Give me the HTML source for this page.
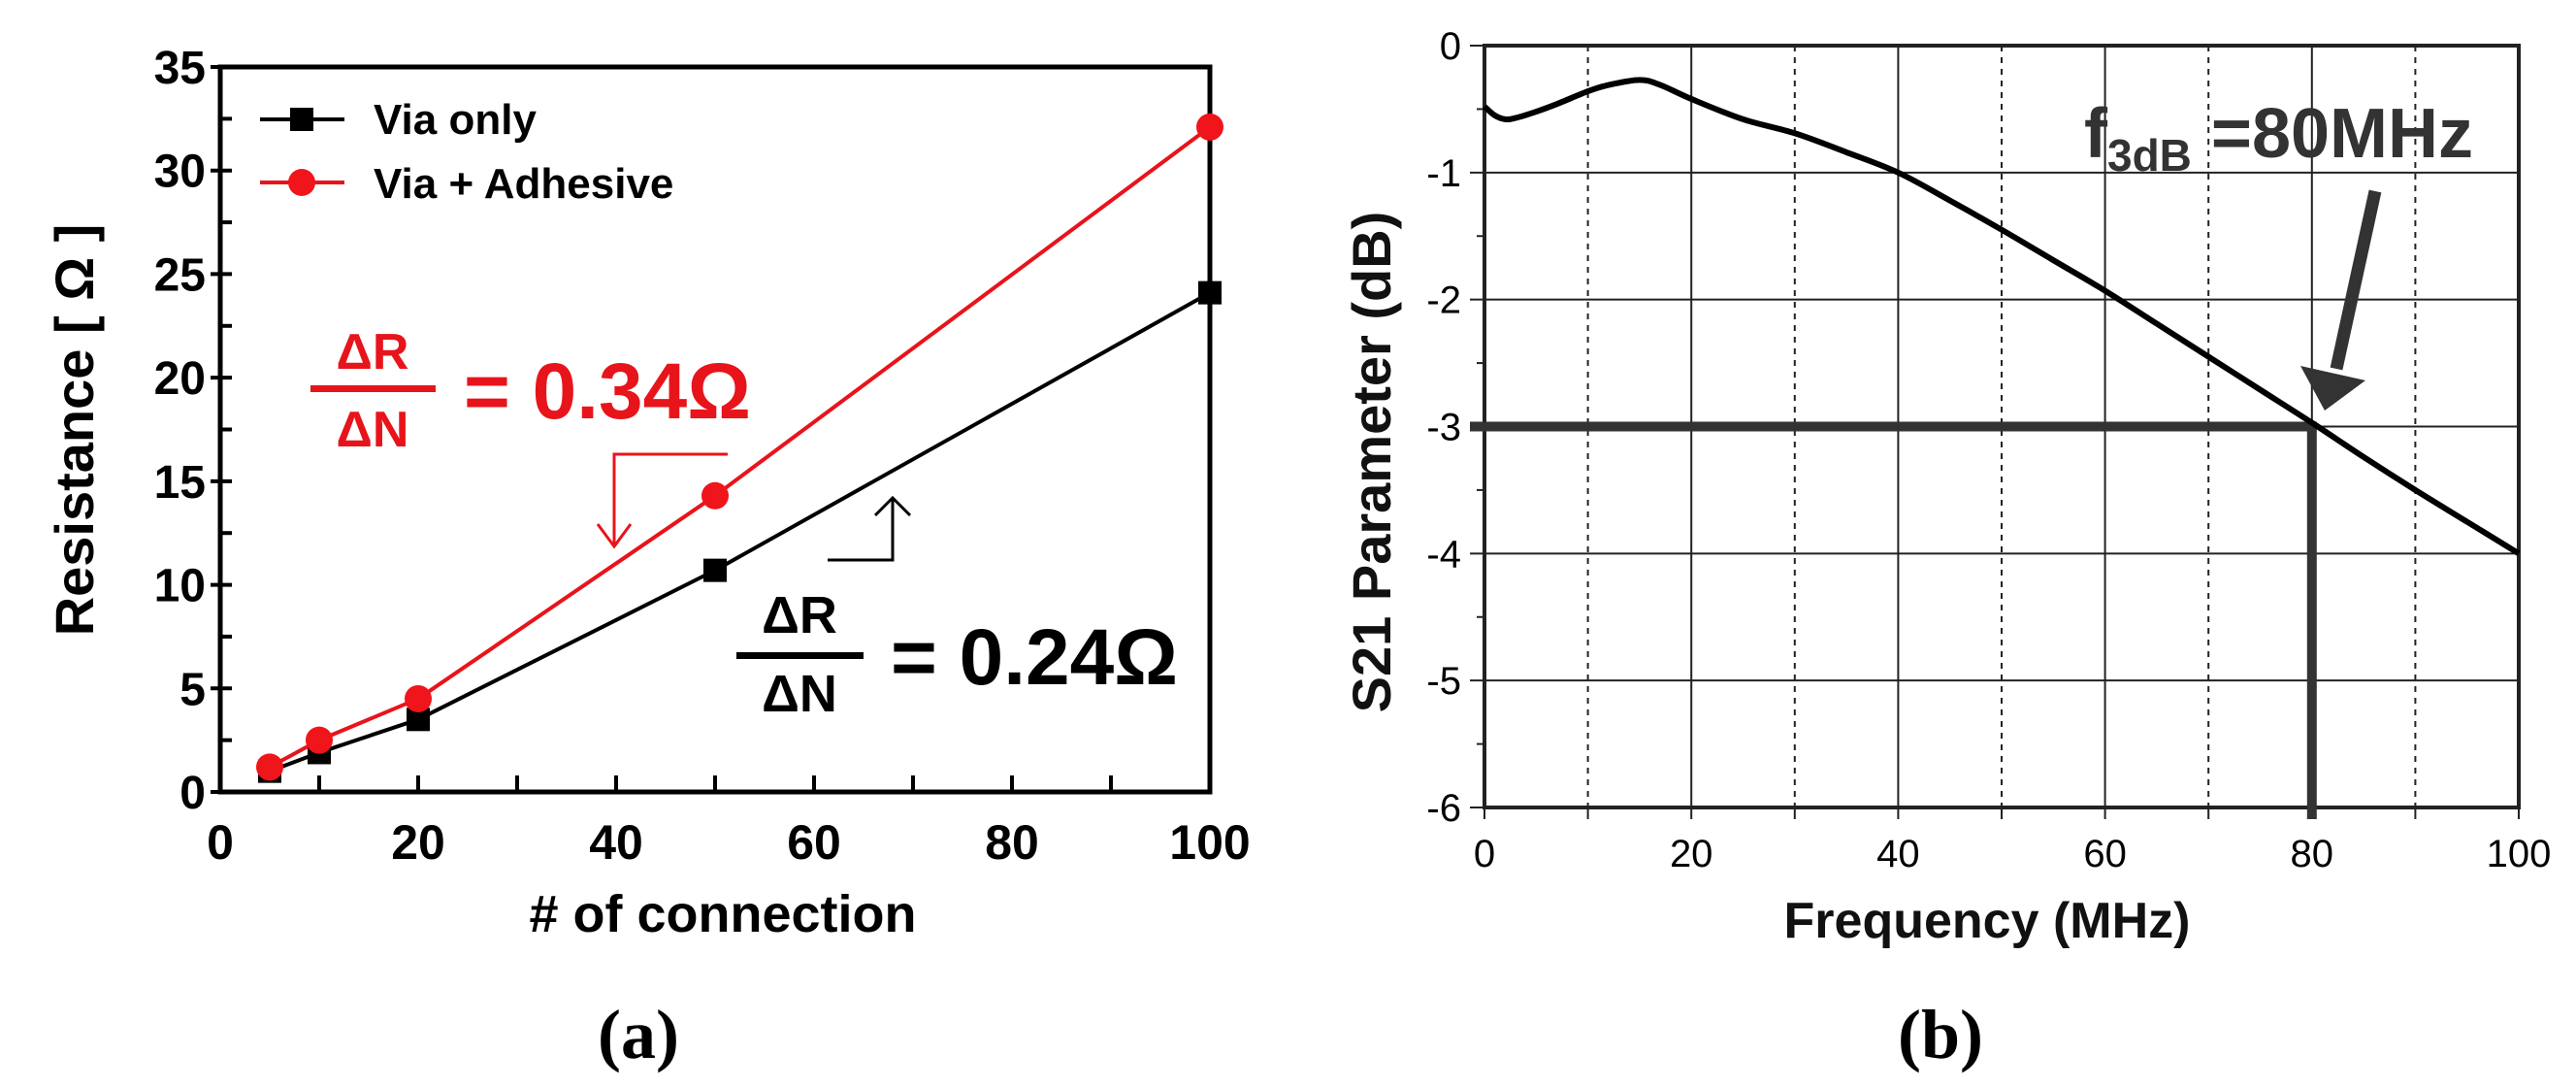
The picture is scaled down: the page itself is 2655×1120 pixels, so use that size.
<!DOCTYPE html>
<html><head><meta charset="utf-8"><style>
html,body{margin:0;padding:0;background:#fff;}
svg{display:block;}
text{font-family:"Liberation Sans",sans-serif;}
</style></head><body>
<svg id="fig" width="2655" height="1120" viewBox="0 0 2655 1120" xmlns="http://www.w3.org/2000/svg">
<g id="chartA"></g>
<g id="chartB"></g>
</svg>
<script>
// ---- Chart (a) data ----
const connCounts = [5, 10, 20, 50, 100];
const viaOnly = [1.0, 1.9, 3.5, 10.7, 24.1];
const viaAdhesive = [1.2, 2.5, 4.5, 14.3, 32.1];
const aXTicks = [0, 20, 40, 60, 80, 100];
const aYTicks = [0, 5, 10, 15, 20, 25, 30, 35];
// ---- Chart (b) data ----
const freqMHz = [0, 1, 2, 3, 5, 7, 10, 12, 15, 17, 20, 25, 30, 35, 40, 45, 50, 55, 60, 65, 70, 75, 80, 85, 90, 95, 100];
const s21dB = [-0.48, -0.55, -0.58, -0.57, -0.52, -0.46, -0.36, -0.31, -0.27, -0.31, -0.42, -0.58, -0.69, -0.84, -1.0, -1.22, -1.45, -1.69, -1.93, -2.19, -2.45, -2.71, -2.97, -3.24, -3.5, -3.75, -4.0];
const bXTicks = [0, 20, 40, 60, 80, 100];
const bYTicks = [0, -1, -2, -3, -4, -5, -6];
const bGridDashed = [10, 30, 50, 70, 90];
const f3dB = 80;

const NS = "http://www.w3.org/2000/svg";
function mk(parent, tag, attrs, txt) {
  const e = document.createElementNS(NS, tag);
  for (const k in attrs) e.setAttribute(k, attrs[k]);
  if (txt !== undefined) e.textContent = txt;
  parent.appendChild(e);
  return e;
}
function catmull(pts) {
  let d = "M" + pts[0][0] + "," + pts[0][1];
  for (let i = 0; i < pts.length - 1; i++) {
    const p0 = pts[Math.max(0, i - 1)], p1 = pts[i], p2 = pts[i + 1], p3 = pts[Math.min(pts.length - 1, i + 2)];
    const c1x = p1[0] + (p2[0] - p0[0]) / 6, c1y = p1[1] + (p2[1] - p0[1]) / 6;
    const c2x = p2[0] - (p3[0] - p1[0]) / 6, c2y = p2[1] - (p3[1] - p1[1]) / 6;
    d += " C" + c1x + "," + c1y + " " + c2x + "," + c2y + " " + p2[0] + "," + p2[1];
  }
  return d;
}
function poly(pts) { return "M" + pts.map(p => p[0] + "," + p[1]).join(" L"); }

// ================= Chart A =================
(function () {
  const g = document.getElementById("chartA");
  const L = 227, R = 1247, T = 69, B = 816;
  const xA = v => L + (v / 100) * (R - L);
  const yA = v => B - (v / 35) * (B - T);
  let e;
  e = mk(g, "rect", {x: L, y: T, width: R - L, height: B - T, fill: "none", stroke: "#000", "stroke-width": 5});
  
  
  for (let v = 0; v <= 100; v += 10) {
    e = mk(g, "line", {x1: xA(v), x2: xA(v), y1: B, y2: B - 17, stroke: "#000", "stroke-width": 4});
    
    
  }
  aXTicks.forEach(v => {
    e = mk(g, "text", {x: xA(v), y: 885, "text-anchor": "middle", "font-size": 50, "font-weight": "bold"}, String(v));
    
    
  });
  for (let v = 0; v <= 35; v += 2.5) {
    const major = v % 5 === 0;
    e = mk(g, "line", {x1: L - (major ? 10 : 0), x2: L + 12, y1: yA(v), y2: yA(v), stroke: "#000", "stroke-width": 4});
    
    
  }
  aYTicks.forEach(v => {
    e = mk(g, "text", {x: 212, y: yA(v) + 17, "text-anchor": "end", "font-size": 48, "font-weight": "bold"}, String(v));
    
    
  });
  e = mk(g, "text", {x: 0, y: 0, transform: "translate(96,443) rotate(-90)", "text-anchor": "middle", "font-size": 56, "font-weight": "bold"}, "Resistance [ Ω ]");
  
  
  e = mk(g, "text", {x: 745, y: 960, "text-anchor": "middle", "font-size": 54, "font-weight": "bold"}, "# of connection");
  
  
  e = mk(g, "text", {x: 658, y: 1090, "text-anchor": "middle", "font-size": 72, "font-weight": "bold", style: "font-family:'Liberation Serif',serif"}, "(a)");
  
  

  const black = connCounts.map((c, i) => [xA(c), yA(viaOnly[i])]);
  const red = connCounts.map((c, i) => [xA(c), yA(viaAdhesive[i])]);
  e = mk(g, "path", {d: poly(black), fill: "none", stroke: "#000", "stroke-width": 4, "stroke-linejoin": "round"});
  
  
  e = mk(g, "path", {d: poly(red), fill: "none", stroke: "#e8141b", "stroke-width": 4, "stroke-linejoin": "round"});
  
  
  black.forEach(p => {
    const m = mk(g, "rect", {x: p[0] - 12, y: p[1] - 12, width: 24, height: 24, fill: "#000"});
    
    
  });
  red.forEach(p => {
    const m = mk(g, "circle", {cx: p[0], cy: p[1], r: 14, fill: "#f0141b"});
    
    
  });

  const lg = mk(g, "g", {});
  
  
  e = mk(lg, "line", {x1: 268, x2: 355, y1: 123, y2: 123, stroke: "#000", "stroke-width": 4});
  
  
  e = mk(lg, "rect", {x: 299, y: 111, width: 24, height: 24, fill: "#000"});
  
  
  e = mk(lg, "text", {x: 385, y: 138, "font-size": 44, "font-weight": "bold"}, "Via only");
  
  
  e = mk(lg, "line", {x1: 268, x2: 355, y1: 188, y2: 188, stroke: "#e8141b", "stroke-width": 4});
  
  
  e = mk(lg, "circle", {cx: 311, cy: 188, r: 14, fill: "#f0141b"});
  
  
  e = mk(lg, "text", {x: 385, y: 204, "font-size": 44, "font-weight": "bold"}, "Via + Adhesive");
  
  

  const ra = mk(g, "g", {fill: "#e8141b"});
  
  
  mk(ra, "text", {x: 384, y: 380, "text-anchor": "middle", "font-size": 52, "font-weight": "bold"}, "ΔR");
  mk(ra, "rect", {x: 320, y: 397, width: 129, height: 7});
  mk(ra, "text", {x: 384, y: 460, "text-anchor": "middle", "font-size": 52, "font-weight": "bold"}, "ΔN");
  mk(ra, "text", {x: 478, y: 431, "font-size": 82, "font-weight": "bold"}, "= 0.34Ω");
  mk(ra, "path", {d: "M750,468 L633,468 L633,563 M616,540 L633,563 L650,540", fill: "none", stroke: "#e8141b", "stroke-width": 3});

  const ba = mk(g, "g", {fill: "#000"});
  
  
  mk(ba, "text", {x: 824, y: 652, "text-anchor": "middle", "font-size": 54, "font-weight": "bold"}, "ΔR");
  mk(ba, "rect", {x: 759, y: 672, width: 131, height: 7});
  mk(ba, "text", {x: 824, y: 733, "text-anchor": "middle", "font-size": 54, "font-weight": "bold"}, "ΔN");
  mk(ba, "text", {x: 918, y: 705, "font-size": 82, "font-weight": "bold"}, "= 0.24Ω");
  mk(ba, "path", {d: "M853,577 L920,577 L920,513 M902,531 L920,513 L938,531", fill: "none", stroke: "#000", "stroke-width": 3});
})();

// ================= Chart B =================
(function () {
  const g = document.getElementById("chartB");
  const L = 1530, R = 2596, T = 47, B = 832;
  const xB = v => L + (v / 100) * (R - L);
  const yB = v => T + (-v / 6) * (B - T);
  let e;
  bGridDashed.forEach(v => {
    e = mk(g, "line", {x1: xB(v), x2: xB(v), y1: T, y2: B, stroke: "#222", "stroke-width": 2, "stroke-dasharray": "6,6"});
    
    
  });
  bXTicks.forEach(v => {
    e = mk(g, "line", {x1: xB(v), x2: xB(v), y1: T, y2: B, stroke: "#222", "stroke-width": 2});
    
    
  });
  bYTicks.forEach(v => {
    e = mk(g, "line", {x1: L - 15, x2: R, y1: yB(v), y2: yB(v), stroke: "#222", "stroke-width": 2});
    
    
    e = mk(g, "text", {x: 1506, y: yB(v) + 14, "text-anchor": "end", "font-size": 40}, String(v));
    
    
  });
  for (let v = -0.5; v >= -5.5; v -= 1) {
    e = mk(g, "line", {x1: L - 8, x2: L, y1: yB(v), y2: yB(v), stroke: "#222", "stroke-width": 2});
    
    
  }
  for (let v = 0; v <= 100; v += 10) {
    e = mk(g, "line", {x1: xB(v), x2: xB(v), y1: B, y2: B + 12, stroke: "#222", "stroke-width": 2});
    
    
  }
  bXTicks.forEach(v => {
    e = mk(g, "text", {x: xB(v), y: 893, "text-anchor": "middle", "font-size": 40}, String(v));
    
    
  });
  e = mk(g, "rect", {x: L, y: T, width: R - L, height: B - T, fill: "none", stroke: "#222", "stroke-width": 4});
  
  

  e = mk(g, "path", {d: "M" + (L - 15) + "," + yB(-3) + " L" + xB(f3dB) + "," + yB(-3) + " L" + xB(f3dB) + "," + (B + 12), fill: "none", stroke: "#333", "stroke-width": 10});
  
  

  const pts = freqMHz.map((f, i) => [xB(f), yB(s21dB[i])]);
  e = mk(g, "path", {d: catmull(pts), fill: "none", stroke: "#000", "stroke-width": 6});
  
  

  const an = mk(g, "g", {fill: "#333"});
  
  
  const t = mk(an, "text", {x: 2148, y: 162, "font-size": 72, "font-weight": "bold"});
  mk(t, "tspan", {}, "f");
  mk(t, "tspan", {"font-size": 46, dy: 14}, "3dB");
  mk(t, "tspan", {dy: -14}, " =80MHz");
  mk(an, "line", {x1: 2448, y1: 197, x2: 2408, y2: 380, stroke: "#333", "stroke-width": 13});
  mk(an, "path", {d: "M2371,377 L2438,392 L2396,423 Z"});

  e = mk(g, "text", {x: 0, y: 0, transform: "translate(1433,476) rotate(-90)", "text-anchor": "middle", "font-size": 56, "font-weight": "bold", fill: "#111"}, "S21 Parameter (dB)");
  
  
  e = mk(g, "text", {x: 2048, y: 966, "text-anchor": "middle", "font-size": 52, "font-weight": "bold", fill: "#111"}, "Frequency (MHz)");
  
  
  e = mk(g, "text", {x: 2000, y: 1090, "text-anchor": "middle", "font-size": 72, "font-weight": "bold", style: "font-family:'Liberation Serif',serif"}, "(b)");
  
  
})();
</script>
</body></html>
